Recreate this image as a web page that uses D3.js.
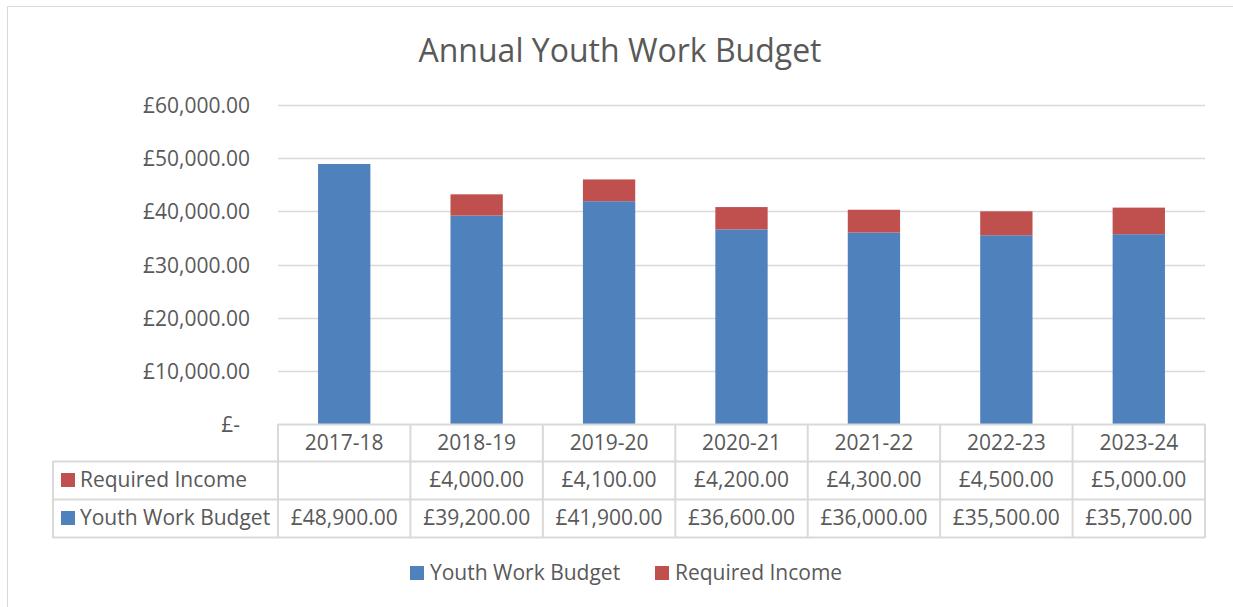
<!DOCTYPE html>
<html>
<head>
<meta charset="utf-8">
<script src="https://cdn.jsdelivr.net/npm/d3@7"></script>
<style>
  html, body { margin: 0; padding: 0; background: #fff; }
  svg { display: block; }
  text { font-family: "Open Sans", "Noto Sans", sans-serif; fill: #595959; }
</style>
</head>
<body>
<svg id="chart" width="1233" height="607"></svg>
<script>
// Financial years
const years = ["2017-18", "2018-19", "2019-20", "2020-21", "2021-22", "2022-23", "2023-24"];
// Core youth work budget per year (£)
const youthWorkBudget = [48900, 39200, 41900, 36600, 36000, 35500, 35700];
// Additional income needed per year (£); none in the first year
const requiredIncome = [null, 4000, 4100, 4200, 4300, 4500, 5000];
// Value axis ticks (£)
const yTicks = [0, 10000, 20000, 30000, 40000, 50000, 60000];

const seriesNames = ["Youth Work Budget", "Required Income"];
const colors = { "Youth Work Budget": "#4f81bd", "Required Income": "#c0504d" };

const svg = d3.select("#chart");
const W = 1233, H = 607;
const FS = "21px";

// outer chart-area frame
svg.append("rect")
  .attr("x", 7.5).attr("y", 6.5)
  .attr("width", W + 10).attr("height", H + 10)
  .attr("fill", "#fff").attr("stroke", "#d9d9d9").attr("stroke-width", 1);

const plot = { left: 278, right: 1205, top: 105, bottom: 424 };

const x = d3.scaleBand().domain(years).range([plot.left, plot.right]).paddingInner(0.605).paddingOuter(0.3025);
const xCol = d3.scaleBand().domain(years).range([plot.left, plot.right]);
const y = d3.scaleLinear().domain([0, 60000]).range([plot.bottom, plot.top]);

const gbp = d3.format(",.2f");
const money = v => v === 0 ? "£-" : "£" + gbp(v);

// title
svg.append("text")
  .attr("x", 620).attr("y", 62)
  .attr("text-anchor", "middle")
  .style("font-size", "32px")
  .text("Annual Youth Work Budget");

// gridlines
svg.append("g").selectAll("line").data(yTicks.filter(d => d > 0)).join("line")
  .attr("x1", plot.left).attr("x2", plot.right)
  .attr("y1", d => Math.round(y(d)) + 0.5).attr("y2", d => Math.round(y(d)) + 0.5)
  .attr("stroke", "#d9d9d9").attr("stroke-width", 1.3);

// y axis labels
const yAxis = d3.axisLeft(y).tickValues(yTicks).tickFormat(money).tickSize(0).tickPadding(0);
const yg = svg.append("g").attr("transform", `translate(250,0)`).call(yAxis);
yg.select(".domain").remove();
yg.selectAll("text")
  .style("font-size", FS).attr("fill", "#595959")
  .attr("font-family", null)
  .attr("dy", "0.36em")
  .attr("dx", d => d === 0 ? -10 : 0);

// stacked bars
const rows = years.map((yr, i) => ({ year: yr, "Youth Work Budget": youthWorkBudget[i], "Required Income": requiredIncome[i] || 0 }));
const stack = d3.stack().keys(seriesNames)(rows);
svg.append("g").selectAll("g").data(stack).join("g")
  .attr("fill", d => colors[d.key])
  .selectAll("rect").data(d => d.filter(p => p[1] > p[0])).join("rect")
  .attr("x", d => x(d.data.year))
  .attr("width", x.bandwidth())
  .attr("y", d => y(d[1]))
  .attr("height", d => y(d[0]) - y(d[1]));

// data table
const tableLeft = 53, rowH = [424, 461, 499, 537];
const lineColor = "#d9d9d9";
const tg = svg.append("g");
const hl = (x1, x2, yy) => tg.append("line").attr("x1", x1).attr("x2", x2).attr("y1", yy + 0.5).attr("y2", yy + 0.5).attr("stroke", lineColor).attr("stroke-width", 2);
const vl = (xx, y1, y2) => tg.append("line").attr("x1", xx).attr("x2", xx).attr("y1", y1).attr("y2", y2).attr("stroke", lineColor).attr("stroke-width", 2);
hl(plot.left, plot.right, rowH[0]);
hl(tableLeft, plot.right, rowH[1]);
hl(tableLeft, plot.right, rowH[2]);
hl(tableLeft, plot.right, rowH[3]);
vl(tableLeft, rowH[1], rowH[3] + 1);
years.forEach(yr => vl(xCol(yr), rowH[0], rowH[3] + 1));
vl(plot.right, rowH[0], rowH[3] + 1);

// header row: category labels
tg.selectAll("text.cat").data(years).join("text").attr("class", "cat")
  .attr("x", d => xCol(d) + xCol.bandwidth() / 2).attr("y", 450)
  .attr("text-anchor", "middle").style("font-size", FS).text(d => d);

// series rows (Required Income first, then Youth Work Budget)
const tableSeries = [
  { name: "Required Income", values: requiredIncome, base: 487, key: [473, 487] },
  { name: "Youth Work Budget", values: youthWorkBudget, base: 525, key: [511, 525] }
];
tableSeries.forEach(s => {
  tg.append("rect").attr("x", 61).attr("y", s.key[0]).attr("width", 14).attr("height", 14).attr("fill", colors[s.name]);
  tg.append("text").attr("x", 80).attr("y", s.base).style("font-size", FS).text(s.name);
  tg.selectAll(null).data(years.map((yr, i) => ({ yr, v: s.values[i] })).filter(d => d.v != null)).join("text")
    .attr("x", d => xCol(d.yr) + xCol.bandwidth() / 2).attr("y", s.base)
    .attr("text-anchor", "middle").style("font-size", FS)
    .text(d => money(d.v));
});

// legend
const legend = svg.append("g");
const legendItems = [{ name: "Youth Work Budget", x: 410 }, { name: "Required Income", x: 655 }];
legendItems.forEach(it => {
  legend.append("rect").attr("x", it.x).attr("y", 566).attr("width", 14).attr("height", 14).attr("fill", colors[it.name]);
  legend.append("text").attr("x", it.x + 20).attr("y", 580).style("font-size", FS).text(it.name);
});
</script>
</body>
</html>
